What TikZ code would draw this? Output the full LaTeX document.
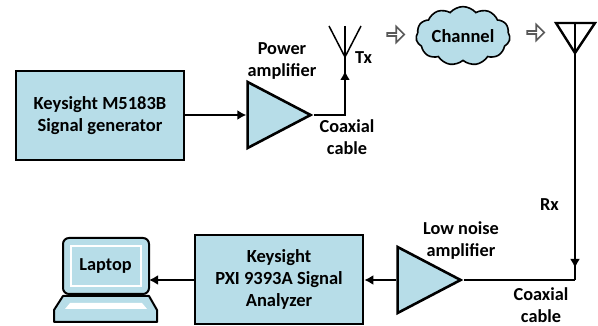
\documentclass[tikz,border=0pt]{standalone}
\usepackage{fontspec}
\setmainfont{Carlito}
\usetikzlibrary{arrows.meta, shapes.geometric, shapes.symbols, shapes.arrows}
\definecolor{boxblue}{HTML}{B7DDE8}
\tikzset{
	blockbox/.style={draw=black, line width=2.6pt, fill=boxblue, align=center, font=\fontsize{18.5}{22}\selectfont\bfseries, inner sep=0pt},
	ampbox/.style={draw=black, line width=2.6pt, fill=boxblue, isosceles triangle, isosceles triangle stretches, inner sep=0pt, minimum width=66pt, minimum height=63pt, anchor=apex},
	txtlabel/.style={align=center, font=\fontsize{18.3}{22}\selectfont\bfseries, inner sep=0pt},
	hollowarrow/.style={single arrow, draw=black!65, line width=1.6pt, fill=white, minimum height=17pt, minimum width=16pt, single arrow head extend=3.5pt, inner sep=0pt},
	wire/.style={line width=2.4pt},
	thinwire/.style={line width=1.5pt},
	tipwire/.style={line width=2.4pt, -{Latex[length=9pt,width=10pt]}}
}
\begin{document}
\begin{tikzpicture}[x=1pt,y=-1pt]
		\useasboundingbox (0,0) rectangle (598,326);
		% signal generator and power amplifier
		\node[blockbox, minimum width=168pt, minimum height=89pt] (sggen) at (100,115.5) {Keysight M5183B\\Signal generator};
		\node[ampbox] (pa) at (314,115) {};
		\node[txtlabel] (palabel) at (282,61) {Power\\amplifier};
		\node[txtlabel] (txcable) at (347,137) {Coaxial\\cable};
		% tx antenna
		\coordinate (txfeed) at (345,115);
		\coordinate (txtip) at (345,71);
		\coordinate (txbase) at (345,57);
		\coordinate (txl) at (329,26);
		\coordinate (txm) at (345,26);
		\coordinate (txr) at (361,26);
		\draw[tipwire] (sggen.east |- pa.lower side) -- (pa.lower side);
		\draw[wire] (pa.apex) -- (txfeed) -- (txbase);
		\draw[tipwire] (txfeed) -- (txtip);
		\draw[thinwire] (txl) -- (txbase) -- (txr);
		\draw[thinwire] (txm) -- (txbase);
		\node[txtlabel, anchor=west] (txlabel) at (355,58) {Tx};
		% channel
		\node[hollowarrow] (arrowa) at (395,34.5) {};
		\node[cloud, cloud puffs=11, cloud puff arc=100, aspect=1.8, draw=black, line width=1.6pt, fill=boxblue, minimum width=94pt, minimum height=57pt, inner sep=0pt, font=\fontsize{18.5}{22}\selectfont\bfseries] (channel) at (463,36) {Channel};
		\node[hollowarrow] (arrowb) at (535,32.5) {};
		% rx antenna
		\coordinate (rxl) at (556,23);
		\coordinate (rxm) at (575,23);
		\coordinate (rxr) at (595,23);
		\coordinate (rxbase) at (575,53);
		\coordinate (rxcorner) at (575,280);
		\draw[wire, line join=miter] (rxl) -- (rxr) -- (rxbase) -- cycle;
		\draw[wire] (rxm) -- (rxbase) -- (rxcorner);
		\draw[tipwire] (rxbase) -- (575,268);
		\node[txtlabel] (rxlabel) at (549.5,205) {Rx};
		% low noise amplifier and analyzer
		\node[ampbox] (lna) at (464,280) {};
		\node[txtlabel] (lnalabel) at (461,241) {Low noise\\amplifier};
		\node[txtlabel] (rxcable) at (541,305.5) {Coaxial\\cable};
		\node[blockbox, minimum width=168pt, minimum height=89pt] (analyzer) at (279,279.5) {Keysight\\PXI 9393A Signal\\Analyzer};
		\draw[wire, line join=miter] (rxcorner) -- (lna.apex);
		\draw[tipwire] (lna.lower side) -- (analyzer.east |- lna.lower side);
		% laptop
		\draw[line width=2pt, fill=boxblue, rounded corners=6pt] (63,294) -- (63,238) -- (149,238) -- (149,294) -- cycle;
		\draw[line width=2pt, fill=boxblue, line join=round] (63,296) -- (149,296) -- (157,310) -- (157,322) -- (54,322) -- (54,310) -- cycle;
		\draw[white, line width=1.4pt] (71,246) rectangle (141,286);
		\fill[white] (65,309) -- (70,303) -- (142,303) -- (147,309) -- cycle;
		\node[txtlabel] (laptop) at (105.5,266) {Laptop};
		\draw[tipwire] (analyzer.west |- 0,280) -- (149,280);
	\end{tikzpicture}
\end{document}
